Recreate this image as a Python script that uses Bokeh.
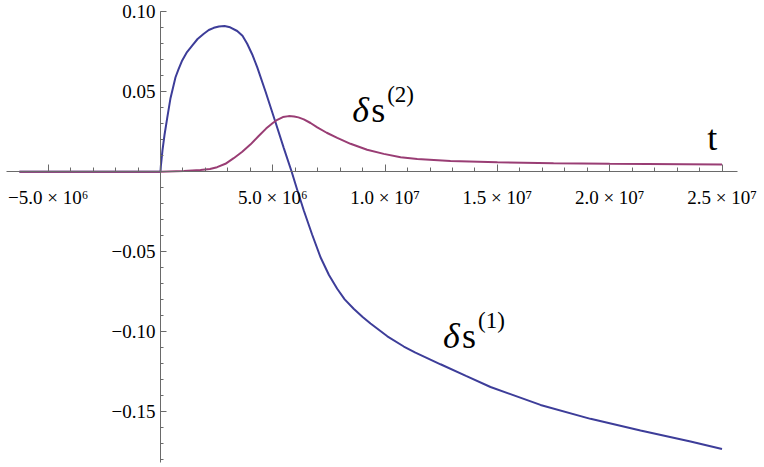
from bokeh.plotting import figure
from bokeh.models import FixedTicker, Range1d
from bokeh.core.properties import value
from bokeh.embed import file_html
from bokeh.resources import INLINE

# delta s^(1) (blue)
t1 = [-6.28e6, 0.0, 0.015e6, 0.045e6, 0.089e6, 0.178e6, 0.298e6, 0.445e6, 0.668e6,
      0.8e6, 0.966e6, 1.18e6, 1.411e6, 1.65e6, 1.928e6, 2.15e6, 2.373e6, 2.6e6,
      2.85e6, 3.1e6, 3.415e6, 3.65e6, 3.86e6, 4.08e6, 4.305e6, 4.675e6, 5.12e6,
      5.49e6, 5.84e6, 6.1e6, 6.38e6, 6.75e6, 7.124e6, 7.5e6, 7.867e6, 8.2e6, 8.6e6,
      9.0e6, 9.35e6, 10.1e6, 10.833e6, 11.35e6, 11.874e6, 12.467e6, 13.6e6,
      14.693e6, 16.919e6, 19.145e6, 21.371e6, 23.598e6, 25.0e6]
s1 = [0.0, 0.0, 0.0035, 0.0075, 0.0135, 0.0230, 0.0335, 0.0460, 0.0591,
      0.0640, 0.0696, 0.0748, 0.0789, 0.0830, 0.0863, 0.0886, 0.0900, 0.0908,
      0.0911, 0.0903, 0.0880, 0.0850, 0.0800, 0.0735, 0.0654, 0.0502, 0.0310,
      0.0148, 0.0, -0.0118, -0.0242, -0.0392, -0.0534, -0.0645, -0.0731, -0.0797,
      -0.0856, -0.0907, -0.0948, -0.1028, -0.1092, -0.1130, -0.1164, -0.1203,
      -0.1276, -0.1345, -0.1457, -0.1544, -0.1617, -0.1686, -0.1733]

# delta s^(2) (purple)
t2 = [-6.28e6, 0.0, 1.04e6, 1.78e6, 2.2e6, 2.52e6, 2.89e6, 3.26e6, 3.64e6, 4.0e6,
      4.36e6, 4.70e6, 5.0e6, 5.20e6, 5.45e6, 5.71e6, 5.95e6, 6.14e6, 6.38e6, 6.68e6,
      6.98e6, 7.4e6, 7.87e6, 8.46e6, 9.20e6, 9.94e6, 10.69e6, 11.43e6, 12.91e6,
      15.0e6, 17.5e6, 20.0e6, 25.0e6]
s2 = [0.0, 0.0, 0.0005, 0.0011, 0.0018, 0.0029, 0.0050, 0.0085, 0.0125, 0.0170,
      0.0222, 0.0270, 0.0305, 0.0325, 0.0342, 0.0348, 0.0346, 0.0340, 0.0328, 0.0305,
      0.0278, 0.0244, 0.0212, 0.0175, 0.0138, 0.0112, 0.0091, 0.0080, 0.0067,
      0.0059, 0.0054, 0.0050, 0.0046]

x_major = [-5e6, 5e6, 1e7, 1.5e7, 2e7, 2.5e7]
x_labels = ["\u22125.0 \u00d7 10\u2076", "5.0 \u00d7 10\u2076", "1.0 \u00d7 10\u2077",
            "1.5 \u00d7 10\u2077", "2.0 \u00d7 10\u2077", "2.5 \u00d7 10\u2077"]
x_minor = [k * 1e6 for k in range(-5, 26) if k != 0]
y_major = [-0.15, -0.10, -0.05, 0.05, 0.10]
y_labels = ["\u22120.15", "\u22120.10", "\u22120.05", "0.05", "0.10"]
y_minor = [k / 100 for k in range(-18, 11) if k != 0]

# annotations: (x, baseline y)
lab1_pos = (12.58e6, -0.1104)
lab2_pos = (8.535e6, 0.0310)
t_pos = (24.34e6, 0.01375)

BLUE = "#3d3d99"
PURPLE = "#993d74"
AXIS = "#6a6a6a"
SERIF = "Liberation Serif"

p = figure(width=764, height=467, output_backend="svg", toolbar_location=None,
           x_range=Range1d(-7.1238e6, 26.892e6), y_range=Range1d(-0.18481, 0.10706),
           min_border=0)
p.outline_line_color = None
p.xgrid.visible = False
p.ygrid.visible = False
p.background_fill_color = "white"
p.border_fill_color = "white"

p.line(t1, s1, line_color=BLUE, line_width=2)
p.line(t2, s2, line_color=PURPLE, line_width=2)

xa = p.xaxis[0]
xa.fixed_location = 0
xa.ticker = FixedTicker(ticks=x_major, minor_ticks=x_minor)
xa.major_label_overrides = {v: s for v, s in zip(x_major, x_labels)}
xa.bounds = (-6.86e6, 25.67e6)
ya = p.yaxis[0]
ya.fixed_location = 0
ya.ticker = FixedTicker(ticks=y_major, minor_ticks=y_minor)
ya.major_label_overrides = {v: s for v, s in zip(y_major, y_labels)}
ya.bounds = (-0.1815, 0.10)

for ax in (xa, ya):
    ax.axis_line_color = AXIS
    ax.axis_line_width = 1
    ax.major_tick_line_color = AXIS
    ax.minor_tick_line_color = AXIS
    ax.major_tick_out = 0
    ax.minor_tick_out = 0
    ax.major_label_text_font = SERIF
    ax.major_label_text_font_size = "19px"
    ax.major_label_text_color = "black"
xa.major_tick_in = 7
xa.minor_tick_in = 4
ya.major_tick_in = 6
ya.minor_tick_in = 3
xa.major_label_standoff = 15
ya.major_label_standoff = 5

def label(pos, sup):
    x, y = pos
    p.text(x=[x], y=[y], text=["\u03b4"], y_offset=-12, text_font=value(SERIF),
           text_font_style="italic", text_font_size="36px", text_baseline="alphabetic",
           text_color="black")
    p.text(x=[x], y=[y], text=["s"], x_offset=19, y_offset=-12, text_font=value(SERIF),
           text_font_size="36px", text_baseline="alphabetic", text_color="black")
    p.text(x=[x], y=[y], text=[sup], x_offset=35, y_offset=-28, text_font=value(SERIF),
           text_font_size="23px", text_baseline="alphabetic", text_color="black")

label(lab2_pos, "(2)")
label(lab1_pos, "(1)")
p.text(x=[t_pos[0]], y=[t_pos[1]], text=["t"], y_offset=-12, text_font=value(SERIF),
       text_font_size="36px", text_baseline="alphabetic", text_color="black")

open("out.html", "w").write(file_html(p, INLINE))
